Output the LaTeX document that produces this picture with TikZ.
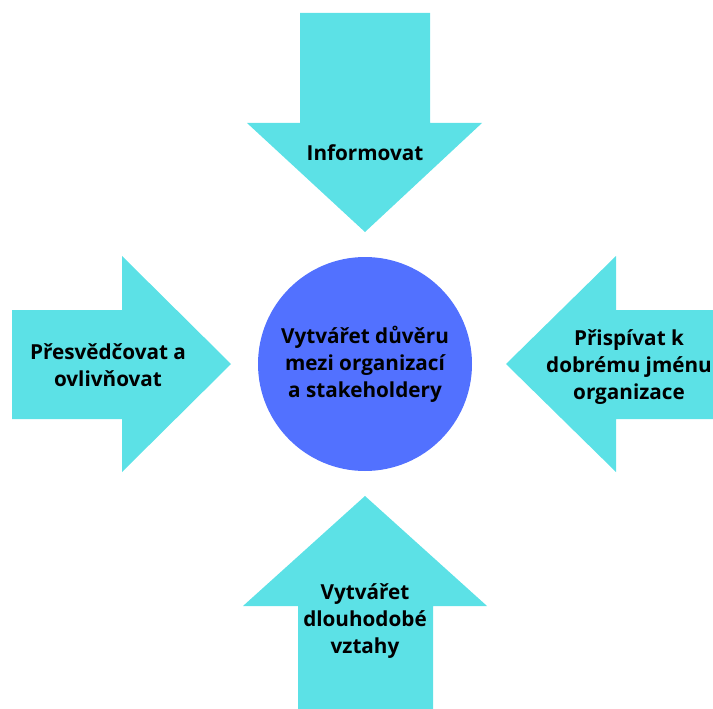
\documentclass[tikz,border=0pt]{standalone}
\usepackage{fontspec}
\setmainfont{Open Sans}
\begin{document}
\begin{tikzpicture}[x=1pt,y=-1pt,
  arrowshape/.style={fill=arrowcyan,draw=none},
  label/.style={font=\bfseries\fontsize{20.7}{27}\selectfont,align=center,text=black,inner sep=0pt}]
\definecolor{arrowcyan}{HTML}{5CE1E6}
\definecolor{hubblue}{HTML}{5271FF}
\useasboundingbox (0,0) rectangle (713,709);
% top arrow pointing down
\fill[arrowshape] (300,13) -- (430,13) -- (430,123) -- (482,123) -- (365,232)
  -- (247,123) -- (300,123) -- cycle;
% left arrow pointing right
\fill[arrowshape] (12,310) -- (122,310) -- (122,256) -- (231,364) -- (122,472)
  -- (122,419) -- (12,419) -- cycle;
% right arrow pointing left
\fill[arrowshape] (713,310) -- (616,310) -- (616,256) -- (506,364) -- (616,472)
  -- (616,419) -- (713,419) -- cycle;
% bottom arrow pointing up
\fill[arrowshape] (298,709) -- (298,606) -- (243,606) -- (365,496) -- (487,606)
  -- (433,606) -- (433,709) -- cycle;
% central circle
\node[circle,fill=hubblue,minimum size=214pt,inner sep=0pt] (hub) at (365,364) {};
\node[label] (hubtext) at (365,364) {Vytvářet důvěru\\mezi organizací\\a stakeholdery};
\node[label] (top) at (365,153) {Informovat};
\node[label] (left) at (108,365) {Přesvědčovat a\\ovlivňovat};
\node[label] (right) at (629,367) {Přispívat k\\dobrému jménu\\organizace};
\node[label] (bottom) at (365,621) {Vytvářet\\dlouhodobé\\vztahy};
\end{tikzpicture}
\end{document}
